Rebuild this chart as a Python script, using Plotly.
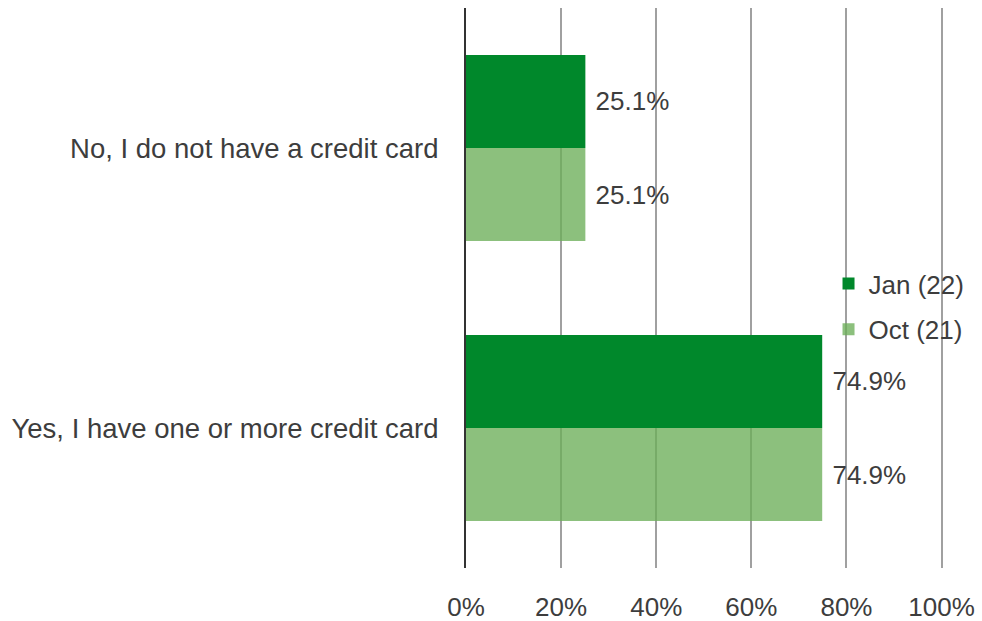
import plotly.graph_objects as go

CATEGORIAS = ["No, I do not have a credit card", "Yes, I have one or more credit card"]
JAN_22 = [25.1, 74.9]
OUT_21 = [25.1, 74.9]
TICKS = [0, 20, 40, 60, 80, 100]

VERDE = "#00882b"
VERDE_CLARO = "rgba(108,174,88,0.78)"
TEXTO = "#3d3d3d"

fig = go.Figure()
fig.add_trace(go.Bar(
    y=CATEGORIAS, x=JAN_22, orientation="h", name="Jan (22)",
    marker=dict(color=VERDE, line=dict(width=0)),
    text=[f"\u00a0{v:.1f}%" for v in JAN_22], textposition="outside",
    textfont=dict(size=26, color=TEXTO), cliponaxis=False,
    legendgroup="a",
))
fig.add_trace(go.Bar(
    y=CATEGORIAS, x=OUT_21, orientation="h", name="Oct (21)",
    marker=dict(color=VERDE_CLARO, line=dict(width=0)),
    text=[f"\u00a0{v:.1f}%" for v in OUT_21], textposition="outside",
    textfont=dict(size=26, color=TEXTO), cliponaxis=False,
    legendgroup="b",
))

fig.update_layout(
    width=982, height=621,
    barmode="group", bargap=0.335, bargroupgap=0,
    margin=dict(l=466, r=39, t=8, b=53),
    font=dict(family="Liberation Sans, Arial", size=26, color=TEXTO),
    paper_bgcolor="white", plot_bgcolor="white",
    legend=dict(
        x=0.76, y=0.55, xanchor="left", yanchor="top",
        font=dict(size=26, color=TEXTO), bgcolor="rgba(0,0,0,0)",
        traceorder="grouped", tracegroupgap=9,
    ),
)
fig.update_xaxes(
    range=[0, 100.3], tickvals=TICKS, ticktext=[f"{t}%" for t in TICKS],
    showgrid=True, gridcolor="#a0a0a0", gridwidth=2,
    zeroline=False, showline=False, ticklabelstandoff=21, automargin=False,
    tickfont=dict(size=26, color=TEXTO),
)
fig.update_yaxes(
    autorange="reversed", showgrid=False, showline=True,
    linecolor="#333333", linewidth=2, ticklabelstandoff=20, automargin=False,
    tickfont=dict(size=27.5, color=TEXTO),
)

# tira a margem padrao do body para a figura ocupar a janela toda
fig.write_html(
    "out.html",
    config={"displayModeBar": False},
    post_script="document.body.style.margin='0';document.body.style.overflow='hidden';",
)
